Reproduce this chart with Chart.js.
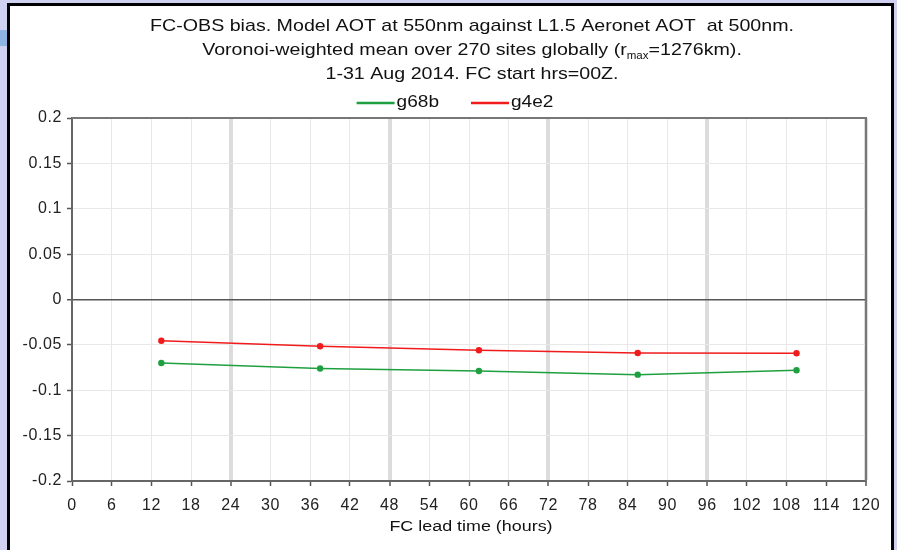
<!DOCTYPE html>
<html>
<head>
<meta charset="utf-8">
<script src="https://cdn.jsdelivr.net/npm/chart.js@4.4.1/dist/chart.umd.min.js"></script>
<style>
  html, body { margin: 0; padding: 0; width: 897px; height: 550px; overflow: hidden; background: #d0d0f0; }
  #franja { position: absolute; left: 0; top: 30px; width: 8px; height: 16px; background: #8db4e2; }
  #panel { position: absolute; left: 7px; top: 3px; width: 881px; height: 600px; background: #fff; border: 3px solid #000; }
  #grafico { position: absolute; left: 0; top: 0; }
</style>
</head>
<body>
<div id="franja"></div>
<div id="panel"></div>
<canvas id="grafico" width="897" height="550"></canvas>
<script>
// =================== DATOS ===================
const horas = [13.5, 37.5, 61.5, 85.5, 109.5];
const sesgoG68b = [-0.0700, -0.0760, -0.0788, -0.0828, -0.0780];
const sesgoG4e2 = [-0.0455, -0.0515, -0.0560, -0.0590, -0.0593];
const nombresSeries = ['g68b', 'g4e2'];
const coloresSeries = ['#1fa040', '#f01c1c'];
const ticksX = [0, 6, 12, 18, 24, 30, 36, 42, 48, 54, 60, 66, 72, 78, 84, 90, 96, 102, 108, 114, 120];
const ticksY = [-0.2, -0.15, -0.1, -0.05, 0, 0.05, 0.1, 0.15, 0.2];
const tituloEjeX = 'FC lead time (hours)';

const FUENTE = "'Liberation Sans', Arial, Helvetica, sans-serif";
const ESTIRA = 1.155; // el texto del original sale ensanchado

// =================== UTILIDADES ===================
// escribe texto ensanchado horizontalmente
function textoAncho(ctx, txt, x, y) {
  ctx.save();
  ctx.translate(x, y);
  ctx.scale(ESTIRA, 1);
  ctx.fillText(txt, 0, 0);
  ctx.restore();
}
const medir = (ctx, txt) => ctx.measureText(txt).width * ESTIRA;

// =================== PLUGINS ===================
// un poco de espaciado en las etiquetas de los ejes
const espaciado = {
  id: 'espaciado',
  beforeDraw(chart) { chart.ctx.letterSpacing = '0.6px'; }
};

// titulo de tres lineas (con subindice r_max), leyenda y titulo del eje X
const textos = {
  id: 'textos',
  afterDraw(chart) {
    const ctx = chart.ctx;
    const ca = chart.chartArea;
    const cx = (ca.left + ca.right) / 2 + 3;
    ctx.save();
    ctx.letterSpacing = '0px';
    ctx.fillStyle = '#111';
    ctx.textBaseline = 'middle';
    ctx.textAlign = 'left';
    const f = '17px ' + FUENTE;
    const fSub = '10px ' + FUENTE;

    // linea 1
    ctx.font = f;
    const t1 = 'FC-OBS bias. Model AOT at 550nm against L1.5 Aeronet AOT  at 500nm.';
    textoAncho(ctx, t1, cx - medir(ctx, t1) / 2, 26);

    // linea 2 con subindice
    const a = 'Voronoi-weighted mean over 270 sites globally (r';
    const s = 'max';
    const b = '=1276km).';
    ctx.font = f;
    const wa = medir(ctx, a), wb = medir(ctx, b);
    ctx.font = fSub;
    const ws = medir(ctx, s);
    const x = cx - (wa + ws + wb) / 2;
    ctx.font = f;
    textoAncho(ctx, a, x, 50);
    ctx.font = fSub;
    textoAncho(ctx, s, x + wa, 56);
    ctx.font = f;
    textoAncho(ctx, b, x + wa + ws, 50);

    // linea 3
    const t3 = '1-31 Aug 2014. FC start hrs=00Z.';
    textoAncho(ctx, t3, cx - medir(ctx, t3) / 2, 74);

    // leyenda
    ctx.font = '16.5px ' + FUENTE;
    const largo = 38, hueco = 2, sep = 32;
    const items = chart.data.datasets.map(d => ({ txt: d.label, col: d.borderColor, w: medir(ctx, d.label) }));
    const total = items.reduce((acc, it) => acc + largo + hueco + it.w, 0) + sep * (items.length - 1);
    let lx = 455 - total / 2;
    items.forEach(it => {
      ctx.strokeStyle = it.col;
      ctx.lineWidth = 2.5;
      ctx.beginPath();
      ctx.moveTo(lx, 103);
      ctx.lineTo(lx + largo, 103);
      ctx.stroke();
      ctx.fillStyle = '#111';
      textoAncho(ctx, it.txt, lx + largo + hueco, 102);
      lx += largo + hueco + it.w + sep;
    });

    // titulo eje X
    ctx.font = '15.5px ' + FUENTE;
    textoAncho(ctx, tituloEjeX, cx - 1 - medir(ctx, tituloEjeX) / 2, 527);
    ctx.restore();
  }
};

// marco superior y derecho del area de trazado
const marco = {
  id: 'marco',
  beforeDatasetsDraw(chart) {
    const { ctx, chartArea: ca } = chart;
    ctx.save();
    ctx.strokeStyle = '#777';
    ctx.lineWidth = 2;
    ctx.beginPath();
    ctx.moveTo(ca.left, ca.top);
    ctx.lineTo(ca.right, ca.top);
    ctx.lineTo(ca.right, ca.bottom);
    ctx.stroke();
    ctx.restore();
  }
};

// =================== GRAFICO ===================
const aPuntos = serie => horas.map((h, i) => ({ x: h, y: serie[i] }));

new Chart(document.getElementById('grafico'), {
  type: 'line',
  data: {
    datasets: [
      {
        label: nombresSeries[0],
        data: aPuntos(sesgoG68b),
        borderColor: coloresSeries[0],
        backgroundColor: coloresSeries[0],
        borderWidth: 1.5,
        pointRadius: 3.2,
        pointBorderWidth: 0,
        tension: 0
      },
      {
        label: nombresSeries[1],
        data: aPuntos(sesgoG4e2),
        borderColor: coloresSeries[1],
        backgroundColor: coloresSeries[1],
        borderWidth: 1.5,
        pointRadius: 3.2,
        pointBorderWidth: 0,
        tension: 0
      }
    ]
  },
  options: {
    responsive: false,
    animation: false,
    layout: { padding: { top: 118, right: 31, left: 0, bottom: 0 } },
    plugins: {
      legend: { display: false },
      title: { display: false },
      tooltip: { enabled: false }
    },
    scales: {
      x: {
        type: 'linear',
        min: 0,
        max: 120,
        afterFit: s => { s.height = 69; },
        afterBuildTicks: s => { s.ticks = ticksX.map(v => ({ value: v })); },
        ticks: { color: '#222', font: { family: FUENTE, size: 16 }, padding: 10, maxRotation: 0, autoSkip: false },
        grid: {
          color: c => (c.tick && c.tick.value > 0 && c.tick.value % 24 === 0) ? '#dcdcdc' : '#e8e8e8',
          lineWidth: c => (c.tick && c.tick.value > 0 && c.tick.value % 24 === 0) ? 4 : 1,
          tickColor: '#555',
          tickWidth: 1.5,
          tickLength: 5
        },
        border: { color: '#666', width: 2 },
        title: { display: false }
      },
      y: {
        min: -0.2,
        max: 0.2,
        afterFit: s => { s.width = 72; },
        afterBuildTicks: s => { s.ticks = ticksY.map(v => ({ value: v })); },
        ticks: {
          color: '#222',
          font: { family: FUENTE, size: 16 },
          padding: 5,
          callback: v => String(+v.toFixed(2))
        },
        grid: {
          color: c => (c.tick && Math.abs(c.tick.value) < 1e-9) ? '#555' : '#e8e8e8',
          lineWidth: c => (c.tick && Math.abs(c.tick.value) < 1e-9) ? 1.5 : 1,
          tickColor: '#555',
          tickWidth: 1.5,
          tickLength: 5
        },
        border: { color: '#666', width: 2 }
      }
    }
  },
  plugins: [espaciado, marco, textos]
});
</script>
</body>
</html>
